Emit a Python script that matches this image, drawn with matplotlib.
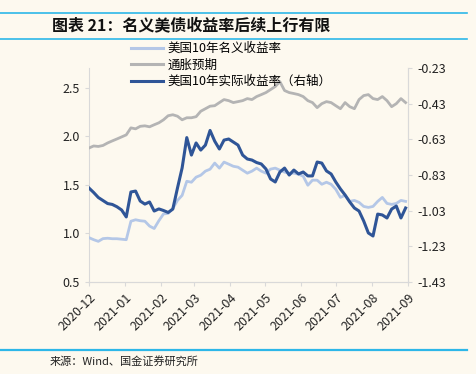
import numpy as np
import pandas as pd
import matplotlib
matplotlib.use('Agg')
import matplotlib.pyplot as plt
import matplotlib.dates as mdates
from matplotlib.lines import Line2D

plt.rcParams['font.family'] = ['Noto Sans CJK SC', 'DejaVu Sans']
plt.rcParams['axes.unicode_minus'] = False

# Data, one point every 4 days from 2020-12-01
dates = pd.date_range('2020-12-01', periods=69, freq='4D')

# 美国10年名义收益率 (left axis)
nominal = [0.956, 0.935, 0.918, 0.946, 0.95, 0.945, 0.945, 0.94, 0.935, 1.125,
           1.14, 1.13, 1.125, 1.075, 1.05, 1.13, 1.2, 1.205, 1.256, 1.339,
           1.391, 1.536, 1.526, 1.578, 1.598, 1.64, 1.66, 1.723, 1.671, 1.733,
           1.712, 1.69, 1.681, 1.65, 1.619, 1.64, 1.671, 1.64, 1.619, 1.661,
           1.671, 1.65, 1.63, 1.619, 1.619, 1.609, 1.588, 1.495, 1.547, 1.547,
           1.505, 1.526, 1.505, 1.453, 1.37, 1.391, 1.329, 1.339, 1.319, 1.277,
           1.267, 1.277, 1.329, 1.37, 1.308, 1.298, 1.308, 1.339, 1.329]

# 通胀预期 (left axis)
breakeven = [1.878, 1.899, 1.894, 1.904, 1.93, 1.951, 1.971, 1.992, 2.013, 2.085,
             2.075, 2.101, 2.106, 2.096, 2.117, 2.137, 2.168, 2.21, 2.22, 2.205,
             2.168, 2.189, 2.189, 2.2, 2.256, 2.282, 2.308, 2.313, 2.345, 2.376,
             2.365, 2.345, 2.355, 2.365, 2.386, 2.376, 2.407, 2.427, 2.448, 2.479,
             2.51, 2.56, 2.469, 2.448, 2.438, 2.427, 2.407, 2.365, 2.345, 2.293,
             2.334, 2.355, 2.345, 2.313, 2.282, 2.345, 2.303, 2.282, 2.376, 2.417,
             2.427, 2.386, 2.376, 2.407, 2.365, 2.303, 2.334, 2.386, 2.345]

# 美国10年实际收益率 (right axis)
real = [-0.903, -0.928, -0.956, -0.973, -0.99, -0.995, -1.008, -1.026, -1.065, -0.925,
        -0.92, -0.976, -0.993, -0.981, -1.032, -1.02, -1.029, -1.04, -1.021, -0.903,
        -0.79, -0.62, -0.718, -0.65, -0.69, -0.662, -0.58, -0.64, -0.684, -0.634,
        -0.628, -0.645, -0.662, -0.718, -0.74, -0.746, -0.76, -0.768, -0.796, -0.852,
        -0.869, -0.813, -0.791, -0.83, -0.802, -0.824, -0.813, -0.835, -0.835, -0.757,
        -0.763, -0.807, -0.824, -0.869, -0.908, -0.942, -0.981, -1.015, -1.032, -1.088,
        -1.155, -1.172, -1.049, -1.054, -1.071, -1.021, -1.004, -1.071, -1.015]

left_ticks = [0.5, 1.0, 1.5, 2.0, 2.5]
right_ticks = [-1.43, -1.23, -1.03, -0.83, -0.63, -0.43, -0.23]
month_ticks = pd.date_range('2020-12-01', '2021-09-01', freq='MS')

bg = '#FDF9EF'
c_nominal = '#B4C7E7'
c_breakeven = '#B4B4B4'
c_real = '#2F5597'
c_rule = '#2DB7E8'

fig = plt.figure(figsize=(4.76, 3.74), dpi=100, facecolor=bg)
ax = fig.add_axes([0.187, 0.246, 0.670, 0.572], facecolor=bg)
ax2 = ax.twinx()

ax.plot(dates, nominal, color=c_nominal, lw=2.0, zorder=3)
ax.plot(dates, breakeven, color=c_breakeven, lw=2.0, zorder=3)
ax2.plot(dates, real, color=c_real, lw=2.2, zorder=4)

ax.set_xlim(pd.Timestamp('2020-12-01'), pd.Timestamp('2021-09-01'))
ax.set_ylim(0.5, 2.7)
ax2.set_ylim(-1.43, -0.23)
ax.set_yticks(left_ticks)
ax.set_yticklabels(['%.1f' % v for v in left_ticks])
ax2.set_yticks(right_ticks)
ax2.set_yticklabels(['%.2f' % v for v in right_ticks])
ax.set_xticks(month_ticks)
ax.xaxis.set_major_formatter(mdates.DateFormatter('%Y-%m'))
plt.setp(ax.get_xticklabels(), rotation=45, ha='right', rotation_mode='anchor')

for a in (ax, ax2):
    for s in a.spines.values():
        s.set_color('#D9D9D9')
    a.spines['top'].set_visible(False)
    a.tick_params(colors='#D9D9D9', labelcolor='#222222', labelsize=9, length=3)
ax2.spines['left'].set_visible(False)

handles = [Line2D([], [], color=c_nominal, lw=2.2),
           Line2D([], [], color=c_breakeven, lw=2.2),
           Line2D([], [], color=c_real, lw=2.2)]
labels = ['美国10年名义收益率', '通胀预期', '美国10年实际收益率（右轴）']
fig.legend(handles, labels, loc='upper left', bbox_to_anchor=(0.275, 0.887),
           frameon=False, fontsize=9, handlelength=2.6, handletextpad=0.3,
           labelspacing=0.28, borderaxespad=0, borderpad=0)

# title block and rules
fig.add_artist(Line2D([0, 0.982], [1 - 13 / 374] * 2, color=c_rule, lw=1.2))
fig.add_artist(Line2D([0, 0.982], [1 - 39 / 374] * 2, color=c_rule, lw=1.2))
fig.add_artist(Line2D([0, 0.982], [1 - 350 / 374] * 2, color=c_rule, lw=1.6))
fig.text(52 / 476, 1 - 25 / 374, '图表 21：名义美债收益率后续上行有限', fontsize=11.5,
         fontweight='bold', va='center', ha='left', color='#111111')
fig.text(50 / 476, 1 - 361 / 374, '来源：Wind、国金证券研究所', fontsize=8,
         va='center', ha='left', color='#222222')

fig.savefig('out.png', dpi=100, facecolor=bg)
